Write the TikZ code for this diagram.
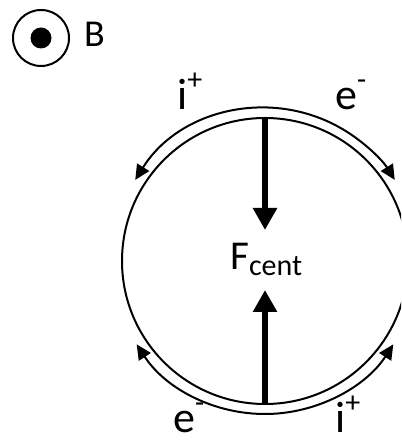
\documentclass[tikz,border=0pt]{standalone}
\usepackage{fontspec}
\setmainfont{Carlito}
\usetikzlibrary{arrows.meta}
\begin{document}
\begin{tikzpicture}[x=1pt,y=1pt,
  flow/.style={line width=2pt, {Triangle[length=15pt,width=14pt]}-{Triangle[length=15pt,width=14pt]}},
  force/.style={line width=6pt, -{Triangle[length=22pt,width=23pt]}},
  lab/.style={inner sep=0pt, anchor=base west, font=\fontsize{44}{44}\selectfont}]
\useasboundingbox (0,0) rectangle (401,443);
\clip (0,0) rectangle (401,443);
% B symbol
\node[draw, circle, line width=2pt, minimum size=56pt, inner sep=0pt] (bring) at (41,405) {};
\node[fill, circle, minimum size=21pt, inner sep=0pt] (bdot) at (bring.center) {};
\node[inner sep=0pt, anchor=base west, font=\fontsize{38}{38}\selectfont] (blab) at (84,396) {B};
% main ring
\coordinate (c) at (265,182);
\node[draw, circle, line width=2pt, minimum size=286pt, inner sep=0pt] (ring) at (c) {};
% flow arcs
\draw[flow] ([shift={(148:153)}]c) arc[start angle=148, end angle=32, radius=153];
\draw[flow] ([shift={(213:153)}]c) arc[start angle=213, end angle=327, radius=153];
% forces
\coordinate (ftop) at (265,213);
\coordinate (fbot) at (265,153);
\draw[force] (ring.north) -- (ftop);
\draw[force] (ring.south) -- (fbot);
\node[inner sep=0pt, anchor=base west, font=\fontsize{41}{41}\selectfont] (fcent) at (230,173) {F\raisebox{-6pt}{\fontsize{30}{30}\selectfont cent}};
% labels
\node[lab] (itop) at (177,333) {i\raisebox{20pt}{\fontsize{30}{30}\selectfont +}};
\node[lab] (etop) at (335,333) {e\raisebox{20pt}{\fontsize{30}{30}\selectfont -}};
\node[lab] (ebot) at (173,10) {e\raisebox{20pt}{\fontsize{30}{30}\selectfont -}};
\node[lab] (ibot) at (335,10) {i\raisebox{20pt}{\fontsize{30}{30}\selectfont +}};
\end{tikzpicture}
\end{document}
